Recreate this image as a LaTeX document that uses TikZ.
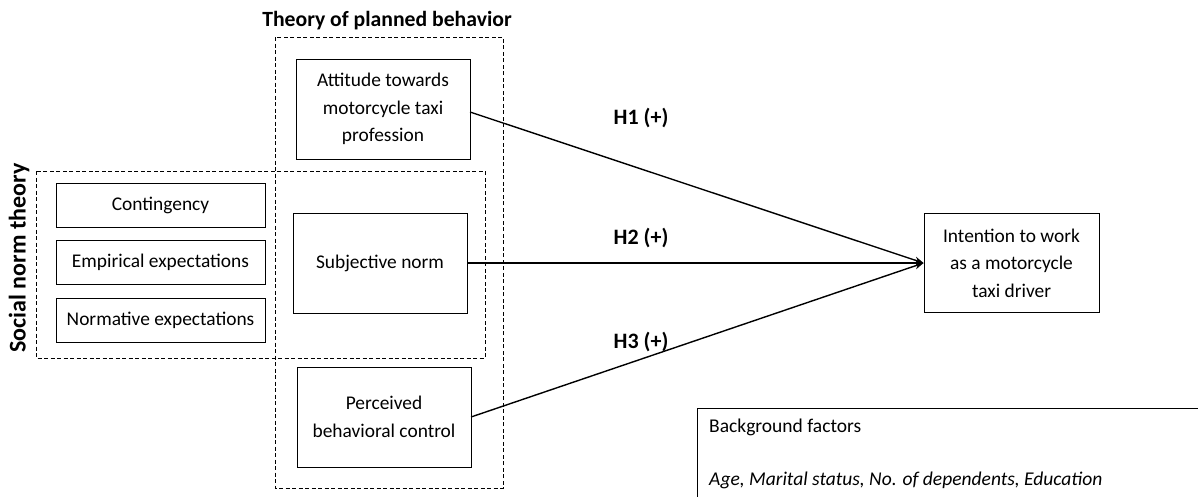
\documentclass[tikz,border=0pt]{standalone}
\usepackage{fontspec}
\setmainfont{Carlito}
\usetikzlibrary{arrows.meta}
\begin{document}
\begin{tikzpicture}[x=1pt,y=-1pt,
  box/.style={draw,line width=0.9pt,rectangle,align=center,inner sep=0pt,font=\fontsize{19.4}{27.5}\selectfont},
  dbox/.style={draw,line width=0.9pt,dash pattern=on 4pt off 2.5pt},
  lbl/.style={font=\bfseries\fontsize{22}{26}\selectfont,inner sep=0pt},
  arr/.style={line width=1.4pt,-{Stealth[length=9pt,width=7pt]}},
  txt/.style={font=\fontsize{19.5}{24}\selectfont,inner sep=0pt,anchor=west}]
\useasboundingbox (0,0) rectangle (1198,496);
% dashed frames
\draw[dbox] (275,37) rectangle (503,488);
\draw[dbox] (36,171) rectangle (485,358);
\node[lbl,font=\bfseries\fontsize{21.7}{26}\selectfont] (tpb) at (387,21) {Theory of planned behavior};
\node[lbl,rotate=90,font=\bfseries\fontsize{24}{28}\selectfont] (snt) at (19,258) {Social norm theory};
% boxes
\node[box,minimum width=174pt,minimum height=100pt] (att) at (383,109) {Attitude towards\\motorcycle taxi\\profession};
\node[box,minimum width=174pt,minimum height=100pt] (sub) at (380,263) {Subjective norm};
\node[box,minimum width=174pt,minimum height=100pt] (pbc) at (384,417) {Perceived\\behavioral control};
\node[box,minimum width=209pt,minimum height=44pt] (con) at (160.5,205) {Contingency};
\node[box,minimum width=209pt,minimum height=44pt] (emp) at (160.5,262) {Empirical expectations};
\node[box,minimum width=209pt,minimum height=44pt] (nor) at (160.5,320) {Normative expectations};
\node[box,minimum width=175pt,minimum height=99pt] (int) at (1011.5,263) {Intention to work\\as a motorcycle\\taxi driver};
% arrows
\coordinate (a1) at (470,112);
\coordinate (a3) at (471,417);
\draw[arr] (a1) -- (int.west);
\draw[arr] (sub.east) -- (int.west);
\draw[arr] (a3) -- (int.west);
\node[lbl] (h1) at (641,118) {H1 (+)};
\node[lbl] (h2) at (641,238) {H2 (+)};
\node[lbl] (h3) at (641,342) {H3 (+)};
% background factors
\draw[line width=0.9pt] (697,520) -- (697,408) -- (1220,408);
\node[txt] (bgt) at (709,427) {Background factors};
\node[txt,font=\itshape\fontsize{19.5}{24}\selectfont] (bgi) at (709,480) {Age, Marital status, No. of dependents, Education};
\end{tikzpicture}
\end{document}
